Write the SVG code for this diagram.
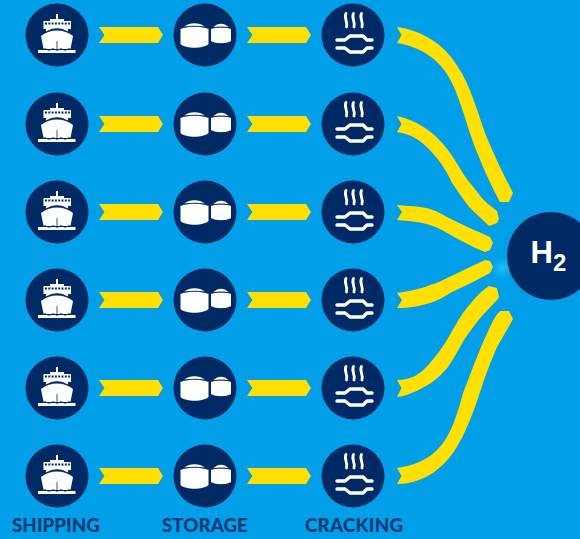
<svg xmlns="http://www.w3.org/2000/svg" width="580" height="539" viewBox="0 0 580 539">
<style>
.n{fill:#002a66}.w{fill:#fff}.y{fill:#ffe000}
.d{fill:none;stroke:#002a66}
.ws{fill:none;stroke:#fff;stroke-linecap:round;stroke-linejoin:round}
.t{font-family:"Lato","Liberation Sans",sans-serif;font-weight:900;font-size:18.800px;fill:#0a3a78}
.h{font-family:"Liberation Sans",sans-serif;font-weight:700;fill:#fff}
</style>
<defs>
<radialGradient id="glow"><stop offset="0" stop-color="#22bdf7"/><stop offset="1" stop-color="#22bdf7" stop-opacity="0"/></radialGradient>
<symbol id="ship" overflow="visible">
<circle class="n" r="31.500"/>
<path class="w" d="M-13.500 -14H-7V-16H-1V-21H1V-16H7V-14H14V-6H11V-3.500C4 -8 -4 -8 -11 -3.500V-6H-13.500Z"/>
<path class="w" d="M-16 1C-8 -6.500 8 -6.500 16 1L13.500 14H-13.500Z"/>
<path class="w" d="M-19 15H18.500V18H-19Z"/>
<path class="d" stroke-width="2" stroke-dasharray="2 1.300" d="M-12 -11.500H13"/>
<path class="d" stroke-width=".8" d="M0 6V15"/>
<path class="d" stroke-width="1" d="M-14 14.500q2 -1.500 4 0t4 0t4 0t4 0t4 0t4 0t4 0"/>
</symbol>
<symbol id="tanks" overflow="visible">
<circle class="n" r="31.500"/>
<path class="w" d="M-24.500 -6.500C-18 -9 -3 -9 3.500 -6.500V9C-2 14 -19 14 -24.500 9Z"/>
<path class="w" d="M-21 -8.500C-15 -13 -6 -13 0 -8.500Z"/>
<path class="w" d="M6 -6.500C10 -8 22 -8 26 -6.500V6C21 9 11 9 6 6Z"/>
<path class="w" d="M8.500 -8C13 -12.500 19 -12.500 23.500 -8Z"/>
<path class="d" stroke-width=".9" d="M-24.500 -6.500C-18 -9.500 -3 -9.500 3.500 -6.500M6 -6.500C10 -8.500 22 -8.500 26 -6.500"/>
</symbol>
<symbol id="crack" overflow="visible">
<circle class="n" r="31.500"/>
<path class="ws" stroke-width="2.800" d="M-7 -21.500C-9.500 -17 -5 -14 -6.500 -8M.5 -21.500C-2 -17 2.500 -14 1 -8M8.500 -21.500C6 -17 10.500 -14 9 -8"/>
<path class="ws" stroke-width="3.400" stroke-linecap="butt" d="M-16 5H-8L-3 1H10L14 5H19M-16 13H-8L-3 17H10L14 13H19"/>
</symbol>
<symbol id="arr" overflow="visible">
<path class="y" d="M-32 -8H27L32 0L27 8H-32L-26.500 0Z"/>
</symbol>
</defs>
<rect width="580" height="539" fill="#009fe8"/>
<circle cx="502" cy="268" r="11" fill="url(#glow)"/>
<g id="connectors">
<use href="#arr" x="131" y="35"/><use href="#arr" x="279" y="35"/>
<use href="#arr" x="131" y="124"/><use href="#arr" x="279" y="124"/>
<use href="#arr" x="131" y="212"/><use href="#arr" x="279" y="212"/>
<use href="#arr" x="131" y="300"/><use href="#arr" x="279" y="300"/>
<use href="#arr" x="131" y="388"/><use href="#arr" x="279" y="388"/>
<use href="#arr" x="131" y="476"/><use href="#arr" x="279" y="476"/>
<path class="y" d="M397 27L401.500 35L397 43C420 47 440 58 452 83C462 103 469 135 479 157C484 170 490 183 500 202H509L513 193L508 183C501 170 492 150 485 133C477 110 470 85 458 67C444 43 420 30 397 27Z"/>
<path class="y" d="M397 116L401.500 124L397 132C408 134 420 137 436 157C444 167 449 176 452 183C459 193 464 200 469 207L489 226L497 223L499 219L497 211C491 206 486 203 481 197C476 190 469 182 464 175C459 167 454 158 448 150C433 130 415 120 397 116Z"/>
<path class="y" d="M397 205L402 212L397 220C410 221 420 222 430 225C437 227 442 230 447 233C460 240 472 247 485 252L490 250L493 243L490 237C477 231 460 224 447 217C440 213 436 211 430 209C420 206 408 206 397 205Z"/>
<path class="y" d="M397 293L402 300L397 308C410 308 420 306 430 303C437 301 444 297 450 293C463 287 477 280 490 273L493 267L490 261L485 260C472 266 460 272 447 278C440 282 436 283 430 285C420 289 410 291 397 293Z"/>
<path class="y" d="M397 380L401.500 388L397 397C407 396 420 390 431 383C438 378 443 373 448 367C454 358 459 349 464 340C469 332 475 325 481 317L497 300L499 297L497 288L489 286C486 288 483 290 480 293C474 299 468 306 463 313C457 322 452 331 447 340C442 348 436 356 430 363C425 369 419 374 413 377C408 379 402 380 397 380Z"/>
<path class="y" d="M397 468L401.500 476L397 484C403 484 408 483 413 482C420 480 427 477 433 473C441 467 448 460 453 453C460 443 465 432 470 420C475 408 479 395 483 383C487 371 492 359 497 347L508 328L513 319L509 311H500C495 316 493 321 490 327C486 336 481 346 477 357C472 369 468 381 463 393C460 405 456 417 452 427C448 436 443 444 437 450C431 456 424 460 417 463C411 465 404 467 397 468Z"/>
</g>
<g id="shipping-1"><use href="#ship" x="57" y="35"/></g>
<g id="storage-1"><use href="#tanks" x="205" y="35"/></g>
<g id="cracking-1"><use href="#crack" x="353" y="35"/></g>
<g id="shipping-2"><use href="#ship" x="57" y="124"/></g>
<g id="storage-2"><use href="#tanks" x="205" y="124"/></g>
<g id="cracking-2"><use href="#crack" x="353" y="124"/></g>
<g id="shipping-3"><use href="#ship" x="57" y="212"/></g>
<g id="storage-3"><use href="#tanks" x="205" y="212"/></g>
<g id="cracking-3"><use href="#crack" x="353" y="212"/></g>
<g id="shipping-4"><use href="#ship" x="57" y="300"/></g>
<g id="storage-4"><use href="#tanks" x="205" y="300"/></g>
<g id="cracking-4"><use href="#crack" x="353" y="300"/></g>
<g id="shipping-5"><use href="#ship" x="57" y="388"/></g>
<g id="storage-5"><use href="#tanks" x="205" y="388"/></g>
<g id="cracking-5"><use href="#crack" x="353" y="388"/></g>
<g id="shipping-6"><use href="#ship" x="57" y="476"/></g>
<g id="storage-6"><use href="#tanks" x="205" y="476"/></g>
<g id="cracking-6"><use href="#crack" x="353" y="476"/></g>
<g id="hydrogen">
<circle class="n" cx="551" cy="256" r="44"/>
<text class="h" x="530.500" y="263" font-size="31">H<tspan font-size="24" dy="8">2</tspan></text>
</g>
<g id="labels">
<text class="t" x="12" y="532">SHIPPING</text>
<text class="t" x="162" y="532">STORAGE</text>
<text class="t" x="305" y="532" textLength="98">CRACKING</text>
</g>
</svg>
